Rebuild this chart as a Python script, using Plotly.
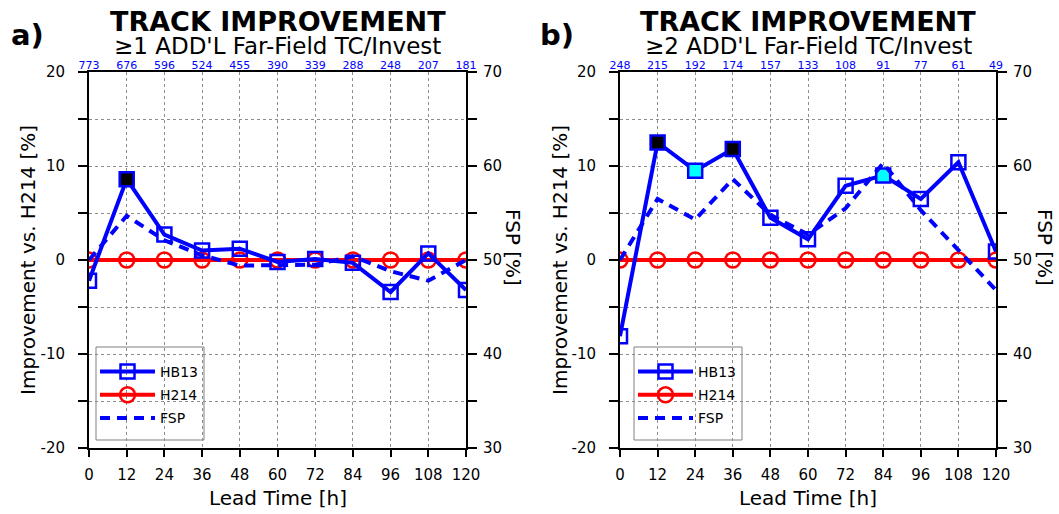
import plotly.graph_objects as go

# ---- data -----------------------------------------------------------------
lead_time = [0, 12, 24, 36, 48, 60, 72, 84, 96, 108, 120]

count_a = [773, 676, 596, 524, 455, 390, 339, 288, 248, 207, 181]
count_b = [248, 215, 192, 174, 157, 133, 108, 91, 77, 61, 49]

hb13_a = [-2.2, 8.6, 2.7, 1.0, 1.2, -0.2, 0.1, -0.3, -3.4, 0.7, -3.2]
h214_a = [0, 0, 0, 0, 0, 0, 0, 0, 0, 0, 0]
fsp_a = [50.0, 54.7, 52.1, 50.5, 49.4, 49.5, 49.5, 50.4, 48.8, 47.8, 50.0]
# significance level of HB13 vs H214: 0 = none, 1 = 95 %, 2 = 99 %
sig_a = [0, 2, 0, 0, 0, 0, 0, 0, 0, 0, 0]

hb13_b = [-8.1, 12.5, 9.5, 11.8, 4.5, 2.2, 7.9, 9.0, 6.5, 10.4, 0.9]
h214_b = [0, 0, 0, 0, 0, 0, 0, 0, 0, 0, 0]
fsp_b = [50.0, 56.5, 54.3, 58.6, 54.8, 52.7, 55.5, 60.3, 55.3, 51.0, 46.8]
sig_b = [0, 2, 1, 2, 0, 0, 0, 1, 0, 0, 0]

impr_ticks = [-20, -10, 0, 10, 20]
fsp_ticks = [30, 40, 50, 60, 70]

titles = ["TRACK IMPROVEMENT", "TRACK IMPROVEMENT"]
subtitles = ["\u22651 ADD'L Far-Field TC/Invest", "\u22652 ADD'L Far-Field TC/Invest"]
panel_tags = ["a)", "b)"]

# ---- styling --------------------------------------------------------------
FONT = "DejaVu Sans"
BLUE = "#0000ff"
RED = "#ff0000"
GRID = "#8c8c8c"
SIG_FILL = {0: "rgba(0,0,0,0)", 1: "#00ffff", 2: "#000000"}

W, H = 1059, 514
X_DOM = [[89 / W, 466 / W], [620 / W, 996 / W]]
Y_DOM = [1 - 448 / H, 1 - 72 / H]

fig = go.Figure()

panels = [
    (hb13_a, h214_a, fsp_a, sig_a, count_a),
    (hb13_b, h214_b, fsp_b, sig_b, count_b),
]

for i, (hb13, h214, fsp, sig, count) in enumerate(panels):
    xb = "x" if i == 0 else "x2"      # bottom lead-time axis
    yl = "y" if i == 0 else "y2"      # left improvement axis
    xt = "x3" if i == 0 else "x4"     # top sample-count axis
    yr = "y3" if i == 0 else "y4"     # right FSP axis
    leg = "legend" if i == 0 else "legend2"

    fig.add_trace(go.Scatter(
        x=lead_time, y=h214, name="H214", xaxis=xb, yaxis=yl,
        mode="lines+markers", legend=leg, legendrank=2, legendgroup=f"h214{i}",
        line=dict(color=RED, width=4),
        marker=dict(symbol="circle", size=15, color="rgba(0,0,0,0)",
                    line=dict(color=RED, width=2.5)),
    ))
    fig.add_trace(go.Scatter(
        x=lead_time, y=hb13, name="HB13", xaxis=xb, yaxis=yl,
        mode="lines+markers", legend=leg, legendrank=1, legendgroup=f"hb13{i}",
        line=dict(color=BLUE, width=4),
        marker=dict(symbol="square", size=14,
                    color=[SIG_FILL[s] for s in sig],
                    line=dict(color=BLUE, width=2.5)),
    ))
    fig.add_trace(go.Scatter(
        x=lead_time, y=fsp, name="FSP", xaxis=xt, yaxis=yr,
        mode="lines", legend=leg, legendrank=3, legendgroup=f"fsp{i}",
        line=dict(color=BLUE, width=4, dash="10px,7px"),
    ))

    grid = dict(showgrid=True, gridcolor=GRID, gridwidth=1, griddash="3px,3px")
    tickfont = dict(family=FONT, size=15, color="black")

    fig.layout[f"xaxis{'' if i == 0 else '2'}"] = dict(
        domain=X_DOM[i], anchor=yl, range=[0, 120], automargin=False,
        tickvals=lead_time, ticks="outside", ticklen=7, tickwidth=2,
        tickcolor="black", showline=True, linecolor="black", linewidth=2,
        tickfont=tickfont, ticklabelstandoff=5, zeroline=False, **grid,
    )
    fig.layout[f"yaxis{'' if i == 0 else '2'}"] = dict(
        domain=Y_DOM, anchor=xb, range=[-20, 20], automargin=False,
        tickvals=impr_ticks, ticktext=[str(v) for v in impr_ticks],
        ticks="outside", ticklen=9,
        tickwidth=2, tickcolor="black", showline=True, linecolor="black",
        linewidth=2, tickfont=tickfont, ticklabelstandoff=10, zeroline=False,
        minor=dict(tickvals=[-15, -5, 5, 15], ticks="outside", ticklen=9,
                   tickwidth=2, tickcolor="black", showgrid=True,
                   gridcolor=GRID, gridwidth=1, griddash="3px,3px"),
        **grid,
    )
    fig.layout[f"xaxis{3 + i}"] = dict(
        domain=X_DOM[i], anchor=yl, overlaying=xb, side="top", range=[0, 120],
        automargin=False, tickvals=lead_time, ticktext=[str(c) for c in count],
        ticks="", showline=True, linecolor="black", linewidth=2,
        tickfont=dict(family=FONT, size=11, color=BLUE), ticklabelstandoff=-3,
        showgrid=False, zeroline=False,
    )
    fig.layout[f"yaxis{3 + i}"] = dict(
        domain=Y_DOM, anchor=xb, overlaying=yl, side="right", range=[30, 70],
        automargin=False, tickvals=fsp_ticks, ticktext=[str(v) for v in fsp_ticks],
        ticks="outside",
        ticklen=9, tickwidth=2, tickcolor="black", showline=True,
        linecolor="black", linewidth=2, tickfont=tickfont, ticklabelstandoff=3,
        showgrid=False, zeroline=False,
        minor=dict(tickvals=[35, 45, 55, 65], ticks="outside", ticklen=9,
                   tickwidth=2, tickcolor="black", showgrid=False),
    )

# legend frames (a little taller than the entries, as in the original figure)
legend_x = [96, 634]
frame_w, frame_top, frame_bot = 108, 347, 440
shapes = []
for lx in legend_x:
    shapes.append(dict(
        type="rect", xref="paper", yref="paper", layer="between",
        x0=lx / W, x1=(lx + frame_w) / W, y0=1 - frame_bot / H, y1=1 - frame_top / H,
        line=dict(color="#808080", width=1), fillcolor="white",
    ))

legend_style = dict(
    borderwidth=0, bgcolor="rgba(0,0,0,0)",
    font=dict(family=FONT, size=14, color="black"),
    itemwidth=55, tracegroupgap=2, xanchor="left", yanchor="top",
)
fig.update_layout(
    legend=dict(x=95 / W, y=1 - 356 / H, **legend_style),
    legend2=dict(x=633 / W, y=1 - 356 / H, **legend_style),
)

# ---- text -----------------------------------------------------------------
ann = []
centers = [(89 + 466) / 2, (620 + 996) / 2]
left_title_x = [28, 560]
right_title_x = [513, 1045]
tag_x = [27, 557]
for i in range(2):
    ann += [
        dict(text=f"<b>{titles[i]}</b>", x=centers[i] / W, y=1 - 22 / H,
             font=dict(family=FONT, size=27, color="black")),
        dict(text=subtitles[i], x=centers[i] / W, y=1 - 46 / H,
             font=dict(family=FONT, size=23, color="black")),
        dict(text=f"<b>{panel_tags[i]}</b>", x=tag_x[i] / W, y=1 - 35 / H,
             font=dict(family=FONT, size=29, color="black")),
        dict(text="Lead Time [h]", x=centers[i] / W, y=1 - 498 / H,
             font=dict(family=FONT, size=20, color="black")),
        dict(text="Improvement vs. H214 [%]", x=left_title_x[i] / W, y=1 - 260 / H,
             textangle=-90, font=dict(family=FONT, size=20, color="black")),
        dict(text="FSP [%]", x=right_title_x[i] / W, y=1 - 247 / H,
             textangle=90, font=dict(family=FONT, size=20, color="black")),
    ]
for a in ann:
    a.update(xref="paper", yref="paper", showarrow=False,
             xanchor="center", yanchor="middle")

fig.update_layout(
    template="none",
    width=W, height=H, margin=dict(l=0, r=0, t=0, b=0, pad=0),
    paper_bgcolor="white", plot_bgcolor="white",
    annotations=ann, shapes=shapes, showlegend=True,
    font=dict(family=FONT, color="black"),
)

fig.write_html("out.html")
